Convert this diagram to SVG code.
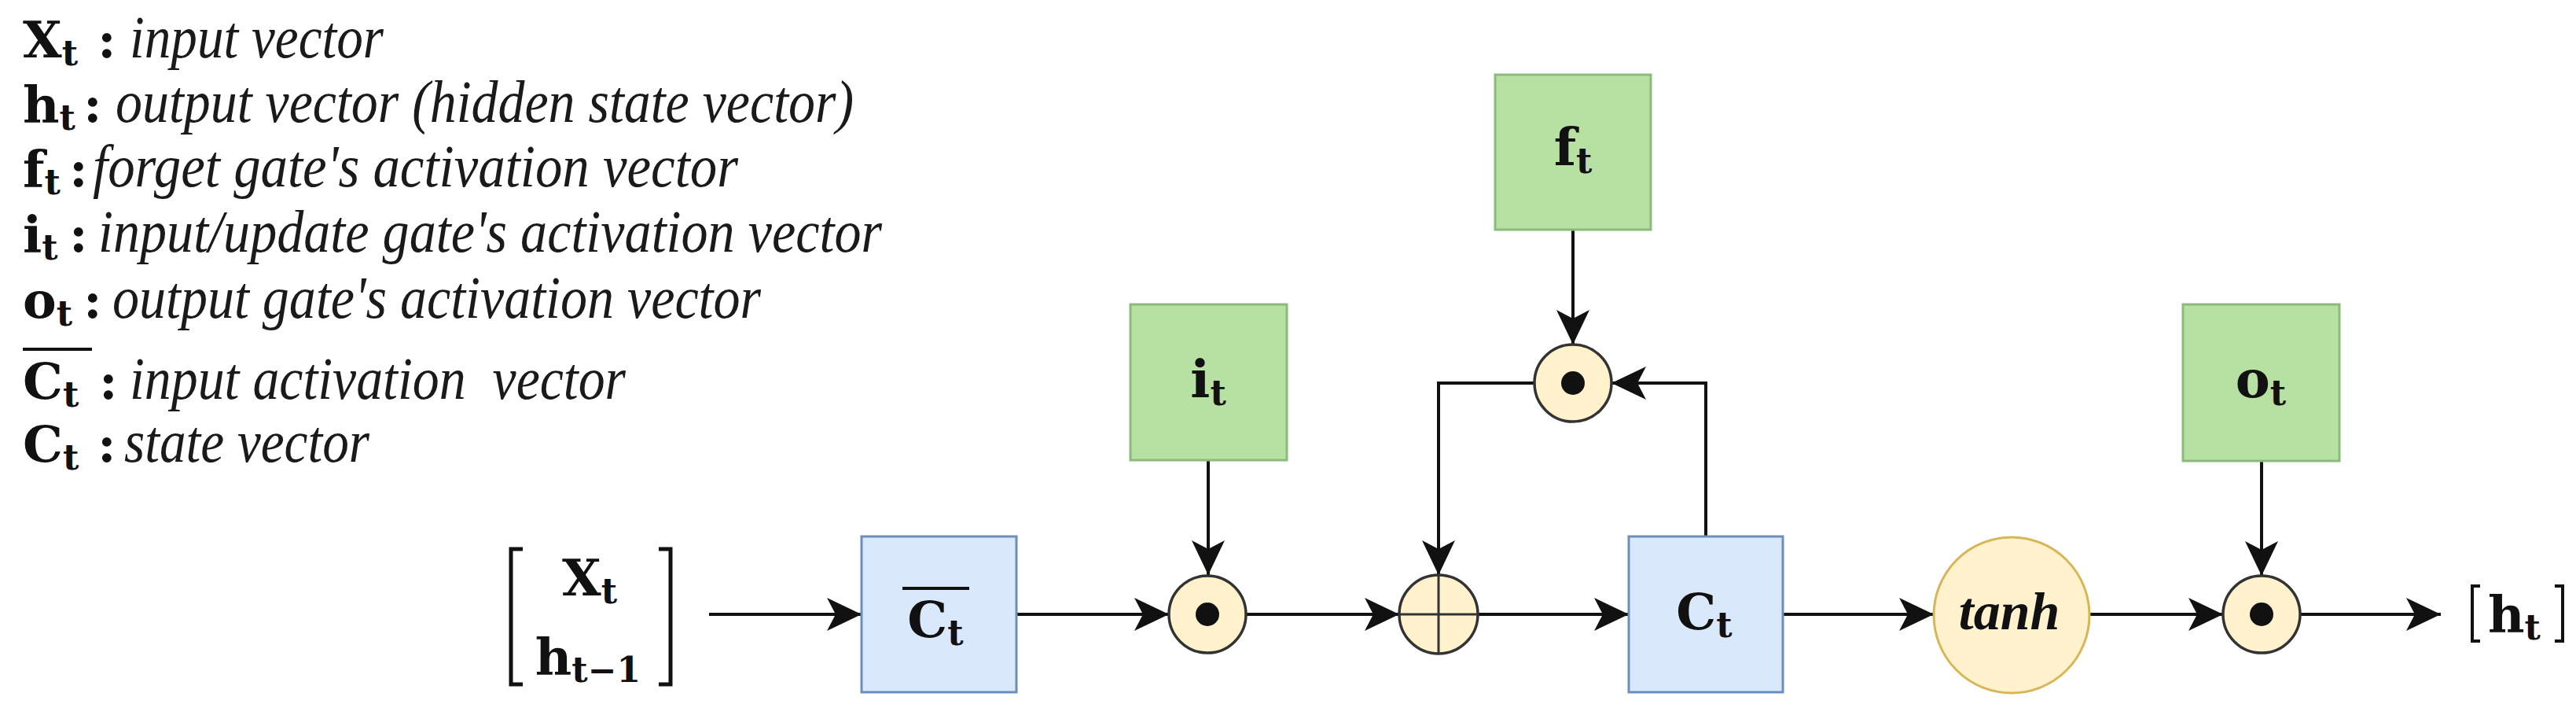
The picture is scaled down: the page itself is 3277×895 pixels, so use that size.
<svg xmlns="http://www.w3.org/2000/svg" width="3277" height="895" viewBox="0 0 3277 895">
<style>
.b{font-family:'DejaVu Serif',serif;font-weight:bold;font-size:64px;fill:#111}
.sub{font-size:44px}
.d{font-family:'Liberation Serif',serif;font-style:italic;font-size:76px;fill:#1a1a1a}
.c{font-family:'DejaVu Serif',serif;font-weight:bold;font-size:66px;fill:#111}
.mid{text-anchor:middle}
.blue{fill:#dae8fc;stroke:#6c8ebf;stroke-width:3}
.green{fill:#b7e0a3;stroke:#8cb97c;stroke-width:3}
.op{fill:#fff2cc;stroke:#333;stroke-width:3.5}
.cross{stroke:#333;stroke-width:3}
.con{fill:none;stroke:#111;stroke-width:4}
.brk{fill:none;stroke:#111;stroke-width:5}
.tanh{font-family:'Liberation Serif',serif;font-style:italic;font-weight:bold;font-size:68px;fill:#111}
</style>
<defs>
<marker id="arr" markerUnits="userSpaceOnUse" viewBox="0 0 46 46" markerWidth="46" markerHeight="46" refX="44" refY="23" orient="auto">
<path d="M44,23 L0,2 L11,23 L0,44 Z" fill="#111"/>
</marker>
</defs>
<rect width="3277" height="895" fill="#fff"/>

<g id="legend">
<text class="b" x="29" y="73">X<tspan class="sub" dy="10">t</tspan></text>
<text class="b" x="124" y="73">:</text>
<text class="d" x="165" y="73" textLength="323" lengthAdjust="spacingAndGlyphs">input vector</text>

<text class="b" x="29" y="155">h<tspan class="sub" dy="10">t</tspan></text>
<text class="b" x="106" y="155">:</text>
<text class="d" x="147" y="155" textLength="939" lengthAdjust="spacingAndGlyphs">output vector (hidden state vector)</text>

<text class="b" x="29" y="237">f<tspan class="sub" dy="10">t</tspan></text>
<text class="b" x="88" y="237">:</text>
<text class="d" x="118" y="237" textLength="821" lengthAdjust="spacingAndGlyphs">forget gate's activation vector</text>

<text class="b" x="29" y="320">i<tspan class="sub" dy="10">t</tspan></text>
<text class="b" x="88" y="320">:</text>
<text class="d" x="125" y="320" textLength="997" lengthAdjust="spacingAndGlyphs">input/update gate's activation vector</text>

<text class="b" x="29" y="404">o<tspan class="sub" dy="10">t</tspan></text>
<text class="b" x="106" y="404">:</text>
<text class="d" x="143" y="404" textLength="825" lengthAdjust="spacingAndGlyphs">output gate's activation vector</text>

<line x1="29" y1="444" x2="117" y2="444" stroke="#111" stroke-width="4"/>
<text class="b" x="29" y="507">C<tspan class="sub" dy="10">t</tspan></text>
<text class="b" x="126" y="507">:</text>
<text class="d" x="165" y="507" textLength="631" lengthAdjust="spacingAndGlyphs" xml:space="preserve" style="white-space:pre">input activation  vector</text>

<text class="b" x="29" y="587">C<tspan class="sub" dy="10">t</tspan></text>
<text class="b" x="124" y="587">:</text>
<text class="d" x="158" y="587" textLength="312" lengthAdjust="spacingAndGlyphs">state vector</text>
</g>

<g id="connectors">
<path class="con" d="M902,781 H1096" marker-end="url(#arr)"/>
<path class="con" d="M1293,781 H1487" marker-end="url(#arr)"/>
<path class="con" d="M1537,585 V731" marker-end="url(#arr)"/>
<path class="con" d="M1585,781 H1780" marker-end="url(#arr)"/>
<path class="con" d="M2001,292 V438" marker-end="url(#arr)"/>
<path class="con" d="M1952,487 H1830 V731" marker-end="url(#arr)"/>
<path class="con" d="M2170,682 V487 H2050" marker-end="url(#arr)"/>
<path class="con" d="M1880,781 H2072" marker-end="url(#arr)"/>
<path class="con" d="M2268,781 H2460" marker-end="url(#arr)"/>
<path class="con" d="M2658,781 H2828" marker-end="url(#arr)"/>
<path class="con" d="M2877,586 V732" marker-end="url(#arr)"/>
<path class="con" d="M2927,781 H3105" marker-end="url(#arr)"/>
</g>

<g id="input">
<path class="brk" d="M665,698 H650 V870 H665"/>
<path class="brk" d="M838,698 H853 V870 H838"/>
<text class="b mid" x="750" y="757">X<tspan class="sub" dy="10">t</tspan></text>
<text class="b mid" x="748" y="857">h<tspan class="sub" dy="10">t−1</tspan></text>
</g>

<g id="ctbar">
<rect class="blue" x="1096" y="682" width="197" height="198"/>
<line x1="1148" y1="748" x2="1233" y2="748" stroke="#111" stroke-width="4"/>
<text class="b mid" x="1190" y="810">C<tspan class="sub" dy="10">t</tspan></text>
</g>

<g id="it">
<rect class="green" x="1438" y="387" width="199" height="198"/>
<text class="c mid" x="1537" y="505">i<tspan class="sub" dy="10">t</tspan></text>
</g>

<g id="mul1">
<circle class="op" cx="1536" cy="781" r="49"/>
<circle cx="1536" cy="781" r="15" fill="#111"/>
</g>

<g id="add">
<circle class="op" cx="1830" cy="781" r="50"/>
<line class="cross" x1="1780" y1="781" x2="1880" y2="781"/>
<line class="cross" x1="1830" y1="731" x2="1830" y2="831"/>
</g>

<g id="ft">
<rect class="green" x="1902" y="95" width="198" height="197"/>
<text class="c mid" x="2001" y="210">f<tspan class="sub" dy="10">t</tspan></text>
</g>

<g id="mul2">
<circle class="op" cx="2001" cy="487" r="49"/>
<circle cx="2001" cy="487" r="15" fill="#111"/>
</g>

<g id="ct">
<rect class="blue" x="2072" y="682" width="196" height="198"/>
<text class="b mid" x="2168" y="800">C<tspan class="sub" dy="10">t</tspan></text>
</g>

<g id="tanh">
<circle cx="2559" cy="782" r="99" fill="#fff2cc" stroke="#d6b656" stroke-width="3"/>
<text class="tanh mid" x="2556" y="800">tanh</text>
</g>

<g id="ot">
<rect class="green" x="2777" y="387" width="199" height="199"/>
<text class="c mid" x="2876" y="505">o<tspan class="sub" dy="10">t</tspan></text>
</g>

<g id="mul3">
<circle class="op" cx="2877" cy="781" r="49"/>
<circle cx="2877" cy="781" r="15" fill="#111"/>
</g>

<g id="output">
<path fill="none" stroke="#111" stroke-width="4" d="M3155,745 H3145 V815 H3155"/>
<path fill="none" stroke="#111" stroke-width="4" d="M3250,745 H3260 V815 H3250"/>
<text class="b" x="3165" y="803">h<tspan class="sub" dy="10">t</tspan></text>
</g>
</svg>
